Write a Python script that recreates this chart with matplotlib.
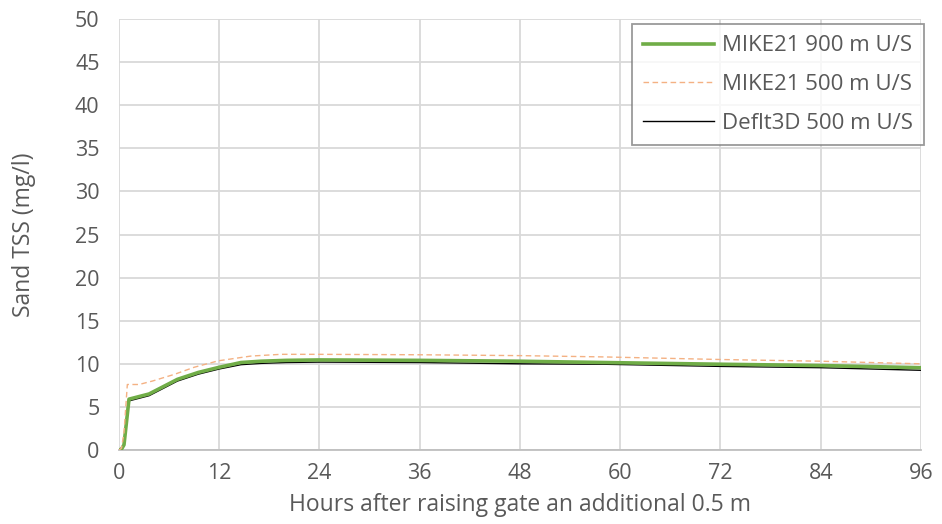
import numpy as np
import matplotlib.pyplot as plt

plt.rcParams['font.family'] = ['Open Sans', 'DejaVu Sans']

# hours after raising gate
hours = [0, 0.3, 0.6, 1.2, 2.0, 3.6, 5.0, 7.0, 9.5, 12, 14.6, 17, 20, 24, 36, 48, 58, 72, 84, 96]
mike900 = [0, 0.1, 0.6, 5.9, 6.1, 6.5, 7.2, 8.2, 9.0, 9.6, 10.15, 10.3, 10.4, 10.45, 10.4, 10.3, 10.15, 9.95, 9.8, 9.55]
hours_m500 = [0, 0.3, 0.6, 1.0, 2.4, 4.0, 6.7, 9.0, 11.9, 15.8, 19.4, 24, 36, 48, 58, 72, 84, 96]
mike500 = [0, 0.2, 2.0, 7.6, 7.6, 8.0, 8.8, 9.6, 10.35, 10.9, 11.1, 11.1, 11.05, 10.95, 10.8, 10.5, 10.3, 10.0]
delft500 = [0, 0.1, 0.5, 5.7, 5.9, 6.3, 7.0, 8.0, 8.8, 9.4, 9.9, 10.05, 10.15, 10.2, 10.15, 10.0, 9.95, 9.7, 9.55, 9.25]

fig = plt.figure(figsize=(9.42, 5.24), dpi=100)
ax = fig.add_axes([0.1263, 0.1412, 0.8514, 0.8225])

ax.plot(hours, mike900, color='#70ad47', lw=2.6, label='MIKE21 900 m U/S', zorder=3)
ax.plot(hours_m500, mike500, color='#f4b183', lw=1.0, ls=(0, (4, 2.5)), label='MIKE21 500 m U/S', zorder=4)
ax.plot(hours, delft500, color='black', lw=1.0, label='Deflt3D 500 m U/S', zorder=2)

ax.set_xlim(0, 96)
ax.set_ylim(0, 50)
ax.set_xticks(np.arange(0, 97, 12))
ax.set_yticks(np.arange(0, 51, 5))
ax.grid(True, color='#d9d9d9', lw=1.3)
ax.set_axisbelow(True)
for s in ['left', 'right', 'top']:
    ax.spines[s].set_visible(False)
ax.spines['bottom'].set_color('#bfbfbf')
ax.spines['bottom'].set_linewidth(1.3)
ax.tick_params(length=0, colors='#595959', labelsize=15.5)
ax.tick_params(axis='x', pad=9)
ax.tick_params(axis='y', pad=14)

ax.set_xlabel('Hours after raising gate an additional 0.5 m', color='#595959', fontsize=16.5, labelpad=7)
ax.set_ylabel('Sand TSS (mg/l)', color='#595959', fontsize=16.5, labelpad=28)

leg = ax.legend(loc='upper right', fontsize=16, handlelength=3.2, handletextpad=0.35, frameon=True,
                fancybox=False, edgecolor='#808080', borderpad=0.5, labelspacing=0.8,
                borderaxespad=0, bbox_to_anchor=(1.004, 0.988))
leg.get_frame().set_linewidth(1.3)
for t in leg.get_texts():
    t.set_color('#595959')

fig.savefig('out.png', dpi=100)
